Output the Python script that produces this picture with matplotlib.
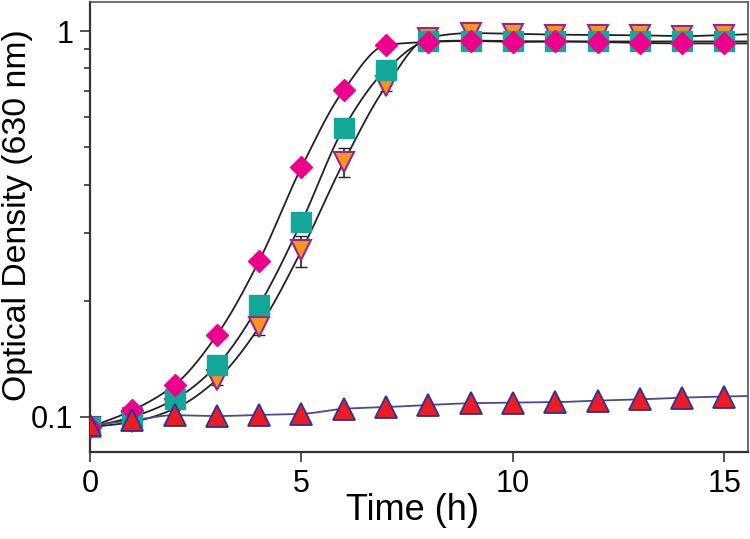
import numpy as np
import matplotlib
matplotlib.use('Agg')
import matplotlib.pyplot as plt
from matplotlib.ticker import FixedLocator, NullFormatter

plt.rcParams['font.family'] = ['Liberation Sans', 'DejaVu Sans']

# time points (h)
t = np.arange(0, 16)

# optical density
od_diamond = [0.094, 0.104, 0.121, 0.163, 0.254, 0.444, 0.704, 0.920,
              0.937, 0.943, 0.937, 0.940, 0.937, 0.932, 0.929, 0.929]
od_square = [0.094, 0.100, 0.111, 0.136, 0.195, 0.320, 0.561, 0.794,
             0.940, 0.945, 0.942, 0.940, 0.940, 0.940, 0.940, 0.940]
od_vtri = [0.094, 0.097, 0.105, 0.125, 0.171, 0.270, 0.458, 0.720,
           0.962, 0.988, 0.984, 0.979, 0.977, 0.975, 0.970, 0.977]
od_tri = [0.095, 0.098, 0.101, 0.1005, 0.1012, 0.1018, 0.105, 0.106,
          0.1074, 0.1085, 0.1089, 0.1092, 0.1102, 0.111, 0.1122, 0.1129]

# error bars (only a few are visible)
err_vtri = [0, 0, 0, 0.004, 0.008, 0.025, 0.04, 0.02,
            0, 0, 0, 0, 0, 0, 0, 0]
err_square = [0, 0, 0, 0.003, 0.005, 0.012, 0.015, 0,
              0, 0, 0, 0, 0, 0, 0, 0]

XMAX = 15.55


def smooth(x, y, xmax, n=400):
    # monotone cubic (Fritsch-Carlson) through the points in log space,
    # last segment carried on to the axis edge
    x = np.asarray(x, float)
    ly = np.log10(np.asarray(y, float))
    h = np.diff(x)
    d = np.diff(ly) / h
    m = np.zeros_like(ly)
    m[0], m[-1] = d[0], d[-1]
    for i in range(1, len(x) - 1):
        if d[i - 1] * d[i] <= 0:
            m[i] = 0
        else:
            m[i] = 2 / (1 / d[i - 1] + 1 / d[i])
    xs = np.linspace(x[0], x[-1], n)
    k = np.clip(np.searchsorted(x, xs) - 1, 0, len(x) - 2)
    s = (xs - x[k]) / h[k]
    h00 = 2 * s**3 - 3 * s**2 + 1
    h10 = s**3 - 2 * s**2 + s
    h01 = -2 * s**3 + 3 * s**2
    h11 = s**3 - s**2
    ys = h00 * ly[k] + h10 * h[k] * m[k] + h01 * ly[k + 1] + h11 * h[k] * m[k + 1]
    xe = np.array([xmax])
    ye = ly[-1] + d[-1] * (xe - x[-1])
    return np.r_[xs, xe], 10 ** np.r_[ys, ye]


fig = plt.figure(figsize=(7.5, 5.39), dpi=100)
ax = fig.add_axes([0.12, 0.1614, 0.877, 0.835])

for y in (od_diamond, od_square, od_vtri):
    xs, ys = smooth(t, y, XMAX)
    ax.plot(xs, ys, color='#222222', lw=1.3, zorder=1)
xs, ys = smooth(t, od_tri, XMAX)
ax.plot(xs, ys, color='#4a4a8c', lw=1.3, zorder=1)

ax.errorbar(t, od_vtri, yerr=err_vtri, fmt='none', ecolor='#222222',
            elinewidth=1.2, capsize=4, zorder=2)
ax.errorbar(t, od_square, yerr=err_square, fmt='none', ecolor='#222222',
            elinewidth=1.2, capsize=4, zorder=2)

ax.plot(t, od_vtri, 'v', ms=15, mfc='#f7941d', mec='#92278f', mew=1.5,
        ls='none', zorder=3)
ax.plot(t, od_square, 's', ms=15, mfc='#13a89a', mec='#13a89a', mew=1,
        ls='none', zorder=4)
ax.plot(t, od_diamond, 'D', ms=11, mfc='#ec008c', mec='#ec008c', mew=1,
        ls='none', zorder=5)
ax.plot(t, od_tri, '^', ms=16, mfc='#ed1c24', mec='#2e3192', mew=1.3,
        ls='none', zorder=6)

ax.set_yscale('log')
ax.set_xlim(0, XMAX)
ax.set_ylim(0.0811, 1.19)
ax.yaxis.set_major_locator(FixedLocator([0.1, 1]))
ax.set_yticklabels(['0.1', '1'])
ax.yaxis.set_minor_locator(FixedLocator([0.2, 0.3, 0.4, 0.5, 0.6, 0.7, 0.8, 0.9]))
ax.yaxis.set_minor_formatter(NullFormatter())
ax.set_xticks([0, 5, 10, 15])

ax.tick_params(axis='both', which='major', direction='out', length=7,
               width=1.2, labelsize=22, pad=5, color='#333333')
ax.tick_params(axis='x', which='major', pad=5)
ax.tick_params(axis='y', which='minor', direction='out', length=4,
               width=1.2, color='#333333')
ax.tick_params(top=False, right=False, which='both')

for side in ('left', 'bottom'):
    ax.spines[side].set_linewidth(1.6)
    ax.spines[side].set_color('#333333')
for side in ('top', 'right'):
    ax.spines[side].set_linewidth(1.2)
    ax.spines[side].set_color('#555555')

ax.set_xlabel('Time (h)', fontsize=26)
ax.xaxis.set_label_coords(0.49, -0.092)
ax.set_ylabel('Optical Density (630 nm)', fontsize=24.3)
ax.yaxis.set_label_coords(-0.086, 0.527)

fig.savefig('out.png', dpi=100)
